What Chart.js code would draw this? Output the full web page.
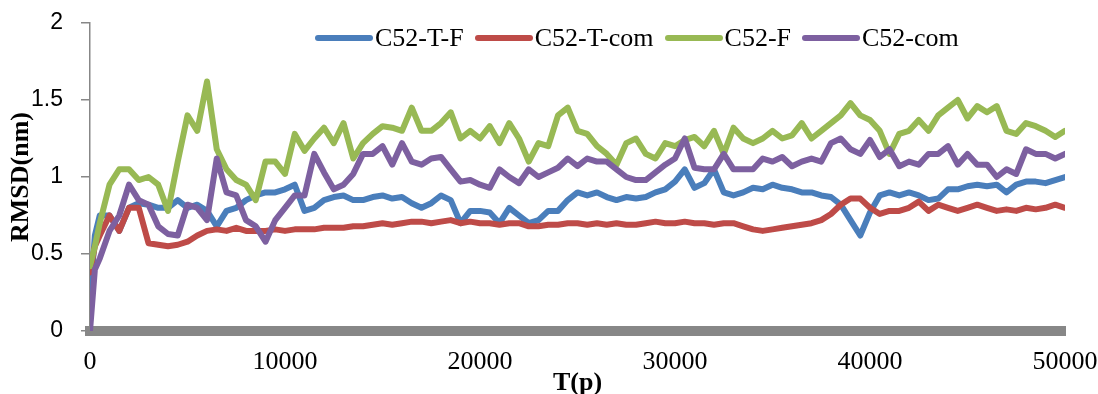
<!DOCTYPE html>
<html lang="en">

<head>
    <meta charset="UTF-8">
    <title>RMSD C52</title>
    <script src="https://cdn.jsdelivr.net/npm/chart.js"></script>
    <style>
        body {
            margin: 0;
            background: #fff;
        }

        #wrap {
            position: relative;
            width: 1098px;
            height: 394px;
            overflow: hidden;
        }

        #rmsd {
            display: block;
        }

        #legend {
            position: absolute;
            left: 315px;
            top: 23px;
            display: flex;
            align-items: center;
            font-family: "Liberation Serif", "Times New Roman", serif;
            font-size: 26px;
            line-height: 30px;
            color: #000;
            white-space: nowrap;
        }

        #legend .line {
            display: inline-block;
            width: 58px;
            height: 6px;
            border-radius: 3px;
            margin-right: 2px;
        }

        #legend .item {
            display: flex;
            align-items: center;
            margin-right: 11px;
        }
    </style>
</head>

<body>
    <div id="wrap">
        <canvas id="rmsd" width="1098" height="410"></canvas>
        <div id="legend"></div>
    </div>
    <script>
        const times = [
            0, 250, 500,
            1000, 1500, 2000, 2500, 3000, 3500, 4000, 4500, 5000, 5500, 6000, 6500, 7000, 7500, 8000, 8500,
            9000, 9500, 10000, 10500, 11000, 11500, 12000, 12500, 13000, 13500, 14000, 14500, 15000, 15500, 16000, 16500,
            17000, 17500, 18000, 18500, 19000, 19500, 20000, 20500, 21000, 21500, 22000, 22500, 23000, 23500, 24000, 24500, 25000,
            25500, 26000, 26500, 27000, 27500, 28000, 28500, 29000, 29500, 30000, 30500, 31000, 31500, 32000, 32500, 33000, 33500,
            34000, 34500, 35000, 35500, 36000, 36500, 37000, 37500, 38000, 38500, 39000, 39500, 40000, 40500, 41000, 41500, 42000,
            42500, 43000, 43500, 44000, 44500, 45000, 45500, 46000, 46500, 47000, 47500, 48000, 48500, 49000, 49500, 50000
        ];

        // C52-T-F
        const c52TF = [
            0.2, 0.62, 0.75,
            0.75, 0.65, 0.8, 0.83, 0.82, 0.8, 0.8, 0.85, 0.8, 0.82, 0.78, 0.68, 0.78, 0.8, 0.85, 0.88,
            0.9, 0.9, 0.92, 0.95, 0.78, 0.8, 0.85, 0.87, 0.88, 0.85, 0.85, 0.87, 0.88, 0.86, 0.87, 0.83,
            0.8, 0.83, 0.88, 0.85, 0.7, 0.78, 0.78, 0.77, 0.7, 0.8, 0.75, 0.7, 0.72, 0.78, 0.78, 0.85, 0.9,
            0.88, 0.9, 0.87, 0.85, 0.87, 0.86, 0.87, 0.9, 0.92, 0.97, 1.05, 0.93, 0.96, 1.05, 0.9, 0.88, 0.9,
            0.93, 0.92, 0.95, 0.93, 0.92, 0.9, 0.9, 0.88, 0.87, 0.82, 0.72, 0.62, 0.77, 0.88, 0.9, 0.88, 0.9,
            0.88, 0.85, 0.86, 0.92, 0.92, 0.94, 0.95, 0.94, 0.95, 0.9, 0.95, 0.97, 0.97, 0.96, 0.98, 1.0
        ];

        // C52-T-com
        const c52TCom = [
            0.38, 0.55, 0.62,
            0.75, 0.65, 0.8, 0.8, 0.57, 0.56, 0.55, 0.56, 0.58, 0.62, 0.65, 0.66, 0.65, 0.67, 0.65, 0.65,
            0.65, 0.66, 0.65, 0.66, 0.66, 0.66, 0.67, 0.67, 0.67, 0.68, 0.68, 0.69, 0.7, 0.69, 0.7, 0.71,
            0.71, 0.7, 0.71, 0.72, 0.7, 0.71, 0.7, 0.7, 0.69, 0.7, 0.7, 0.68, 0.68, 0.69, 0.69, 0.7, 0.7,
            0.69, 0.7, 0.69, 0.7, 0.69, 0.69, 0.7, 0.71, 0.7, 0.7, 0.71, 0.7, 0.7, 0.69, 0.7, 0.7, 0.68,
            0.66, 0.65, 0.66, 0.67, 0.68, 0.69, 0.7, 0.72, 0.76, 0.82, 0.86, 0.86, 0.8, 0.76, 0.78, 0.78, 0.8,
            0.84, 0.78, 0.82, 0.8, 0.78, 0.8, 0.82, 0.8, 0.78, 0.79, 0.78, 0.8, 0.79, 0.8, 0.82, 0.8
        ];

        // C52-F
        const c52F = [
            0.42, 0.55, 0.7,
            0.95, 1.05, 1.05, 0.98, 1.0, 0.95, 0.78, 1.1, 1.4, 1.3, 1.62, 1.18, 1.05, 0.98, 0.95, 0.85,
            1.1, 1.1, 1.02, 1.28, 1.17, 1.25, 1.32, 1.22, 1.35, 1.12, 1.22, 1.28, 1.33, 1.32, 1.3, 1.45,
            1.3, 1.3, 1.35, 1.42, 1.25, 1.3, 1.25, 1.33, 1.22, 1.35, 1.25, 1.1, 1.22, 1.2, 1.4, 1.45, 1.3,
            1.28, 1.2, 1.15, 1.08, 1.22, 1.25, 1.15, 1.12, 1.22, 1.2, 1.24, 1.26, 1.2, 1.3, 1.15, 1.32, 1.25,
            1.22, 1.25, 1.3, 1.25, 1.27, 1.35, 1.25, 1.3, 1.35, 1.4, 1.48, 1.4, 1.37, 1.3, 1.15, 1.28, 1.3,
            1.37, 1.3, 1.4, 1.45, 1.5, 1.38, 1.46, 1.42, 1.46, 1.3, 1.28, 1.35, 1.33, 1.3, 1.26, 1.3
        ];

        // C52-com
        const c52Com = [
            0.0, 0.4, 0.47,
            0.65, 0.75, 0.95, 0.85, 0.82, 0.68, 0.63, 0.62, 0.82, 0.8, 0.72, 1.12, 0.9, 0.88, 0.72, 0.68,
            0.58, 0.72, 0.8, 0.88, 0.88, 1.15, 1.03, 0.92, 0.95, 1.02, 1.15, 1.15, 1.2, 1.08, 1.22, 1.1,
            1.08, 1.12, 1.13, 1.05, 0.97, 0.98, 0.95, 0.93, 1.05, 1.0, 0.96, 1.05, 1.0, 1.03, 1.06, 1.12, 1.07,
            1.12, 1.1, 1.1, 1.05, 1.0, 0.98, 0.98, 1.03, 1.08, 1.12, 1.25, 1.06, 1.05, 1.05, 1.15, 1.05, 1.05,
            1.05, 1.12, 1.1, 1.13, 1.07, 1.1, 1.12, 1.1, 1.22, 1.25, 1.18, 1.15, 1.24, 1.13, 1.18, 1.07, 1.1,
            1.08, 1.15, 1.15, 1.2, 1.08, 1.15, 1.08, 1.08, 1.0, 1.05, 1.02, 1.18, 1.15, 1.15, 1.12, 1.15
        ];

        const seriesNames = ['C52-T-F', 'C52-T-com', 'C52-F', 'C52-com'];
        const seriesColors = ['#4a7ebb', '#be4b48', '#98b954', '#7d60a0'];
        const seriesValues = [c52TF, c52TCom, c52F, c52Com];

        const axisGray = '#878787';
        const serif = "'Liberation Serif', 'Times New Roman', serif";

        const datasets = seriesNames.map((name, i) => ({
            label: name,
            data: seriesValues[i].map((v, j) => ({ x: times[j], y: v })),
            borderColor: seriesColors[i],
            backgroundColor: seriesColors[i],
            borderWidth: 6,
            pointRadius: 0,
            tension: 0,
            borderJoinStyle: 'round',
            borderCapStyle: 'round',
            order: seriesNames.length - i
        }));

        new Chart(document.getElementById('rmsd'), {
            type: 'line',
            data: { datasets: datasets },
            options: {
                responsive: false,
                animation: false,
                layout: { padding: { top: 23, right: 33, left: 0, bottom: 0 } },
                plugins: {
                    legend: { display: false },
                    tooltip: { enabled: false }
                },
                scales: {
                    x: {
                        type: 'linear',
                        min: 0,
                        max: 50000,
                        ticks: {
                            stepSize: 10000,
                            padding: 16,
                            color: '#000',
                            font: { family: serif, size: 26 },
                            maxRotation: 0,
                            callback: v => String(v)
                        },
                        grid: { drawOnChartArea: false, drawTicks: false },
                        border: { color: axisGray, width: 10 },
                        title: {
                            display: true,
                            text: 'T(p)',
                            color: '#000',
                            font: { family: serif, size: 26, weight: 'bold' },
                            padding: { top: 0, bottom: 11 }
                        },
                        afterFit: scale => {
                            scale.height = 79;
                            scale.paddingLeft = 0;
                            scale.paddingRight = 0;
                        }
                    },
                    y: {
                        min: 0,
                        max: 2,
                        ticks: {
                            stepSize: 0.5,
                            padding: 18,
                            color: '#000',
                            font: { family: "'Liberation Sans', Arial, sans-serif", size: 23 },
                            callback: v => String(v)
                        },
                        grid: { drawOnChartArea: false, drawTicks: true, tickLength: 9, color: axisGray, lineWidth: 1.5 },
                        border: { color: axisGray, width: 1.5 },
                        title: {
                            display: true,
                            text: 'RMSD(nm)',
                            color: '#000',
                            font: { family: serif, size: 26, weight: 'bold' },
                            padding: { top: 6, bottom: 0 }
                        },
                        afterFit: scale => {
                            scale.width = 90;
                            scale.paddingTop = 0;
                            scale.paddingBottom = 0;
                        }
                    }
                }
            }
        });

        // legend as html, placed inside the plot area like the original
        const legend = document.getElementById('legend');
        seriesNames.forEach((name, i) => {
            const item = document.createElement('span');
            item.className = 'item';
            const line = document.createElement('span');
            line.className = 'line';
            line.style.background = seriesColors[i];
            item.appendChild(line);
            item.appendChild(document.createTextNode(name));
            legend.appendChild(item);
        });
    </script>
</body>

</html>
